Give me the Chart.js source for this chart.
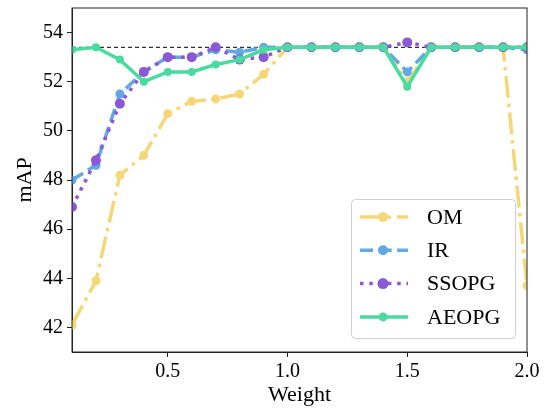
<!DOCTYPE html>
<html>
<head>
<title>mAP vs Weight</title>
<script src="https://cdn.jsdelivr.net/npm/chart.js"></script>
<style>
  html, body { margin: 0; padding: 0; background: #fff; }
</style>
</head>
<body>
<canvas id="mapChart" width="548" height="408"></canvas>
<script>
// data
const weights = [0.1, 0.2, 0.3, 0.4, 0.5, 0.6, 0.7, 0.8, 0.9, 1.0,
                 1.1, 1.2, 1.3, 1.4, 1.5, 1.6, 1.7, 1.8, 1.9, 2.0];
const omValues    = [42.1, 43.9, 48.2, 49.0, 50.7, 51.2, 51.3, 51.5, 52.3, 53.4,
                     53.4, 53.4, 53.4, 53.4, 52.0, 53.4, 53.4, 53.4, 53.4, 43.7];
const irValues    = [48.0, 48.6, 51.5, 52.4, 53.0, 53.0, 53.3, 53.2, 53.4, 53.4,
                     53.4, 53.4, 53.4, 53.4, 52.4, 53.4, 53.4, 53.4, 53.4, 53.3];
const ssopgValues = [46.9, 48.8, 51.1, 52.4, 53.0, 53.0, 53.4, 52.9, 53.0, 53.4,
                     53.4, 53.4, 53.4, 53.4, 53.6, 53.4, 53.4, 53.4, 53.4, 53.4];
const aeopgValues = [53.3, 53.4, 52.9, 52.0, 52.4, 52.4, 52.7, 52.9, 53.3, 53.4,
                     53.4, 53.4, 53.4, 53.4, 51.8, 53.4, 53.4, 53.4, 53.4, 53.4];
const baseline = 53.4;
const xTicks = [0.5, 1.0, 1.5, 2.0];
const yTicks = [42, 44, 46, 48, 50, 52, 54];

const FONT = "'Liberation Serif', 'Times New Roman', serif";

function series(label, values, color, dash, radius, order) {
    return {
        label: label,
        data: weights.map((w, i) => ({ x: w, y: values[i] })),
        borderColor: color,
        backgroundColor: color,
        borderWidth: 3.5,
        borderDash: dash,
        pointRadius: radius,
        pointBorderWidth: 0,
        pointBackgroundColor: color,
        tension: 0,
        clip: 0,
        order: order
    };
}

const datasets = [
    series('OM', omValues, '#F6D777', [22, 5.6, 3.5, 5.6], 4.5, 3),
    series('IR', irValues, '#62A8E5', [13, 5.6], 4.5, 2),
    series('SSOPG', ssopgValues, '#8B58D6', [3.5, 5.8], 5, 1),
    series('AEOPG', aeopgValues, '#4ADBA0', [], 4, 0),
    {
        label: 'best',
        data: [{ x: weights[0], y: baseline }, { x: weights[weights.length - 1], y: baseline }],
        borderColor: '#000',
        borderWidth: 1,
        borderDash: [4, 3],
        pointRadius: 0,
        clip: 0,
        order: 5
    }
];

// box round the plot area
const framePlugin = {
    id: 'frame',
    afterDraw(chart) {
        const { ctx, chartArea: a } = chart;
        ctx.save();
        ctx.strokeStyle = '#222';
        ctx.lineWidth = 1;
        ctx.strokeRect(a.left, a.top, a.right - a.left, a.bottom - a.top);
        ctx.restore();
    }
};

// legend box in the lower right corner, like matplotlib's
const legendPlugin = {
    id: 'boxLegend',
    afterDraw(chart) {
        const { ctx, chartArea: a } = chart;
        const x0 = a.right - 176, y0 = a.bottom - 153, w = 164, h = 139;
        ctx.save();
        ctx.fillStyle = 'rgba(255,255,255,0.8)';
        ctx.strokeStyle = '#d0d0d0';
        ctx.lineWidth = 1;
        ctx.beginPath();
        ctx.roundRect(x0 + 0.5, y0 + 0.5, w, h, 4);
        ctx.fill();
        ctx.stroke();

        ctx.font = '22px ' + FONT;
        ctx.textBaseline = 'middle';
        for (let i = 0; i < 4; i++) {
            const ds = chart.data.datasets[i];
            const y = y0 + 18 + i * 33.3;
            ctx.strokeStyle = ds.borderColor;
            ctx.lineWidth = ds.borderWidth;
            ctx.setLineDash(ds.borderDash);
            ctx.beginPath();
            ctx.moveTo(x0 + 9, y);
            ctx.lineTo(x0 + 57, y);
            ctx.stroke();
            ctx.setLineDash([]);
            ctx.fillStyle = ds.borderColor;
            ctx.beginPath();
            ctx.arc(x0 + 32, y, ds.pointRadius + 0.5, 0, Math.PI * 2);
            ctx.fill();
            ctx.fillStyle = '#000';
            ctx.fillText(ds.label, x0 + 76, y + 1);
        }
        ctx.restore();
    }
};

const ctx = document.getElementById('mapChart').getContext('2d');
const chart = new Chart(ctx, {
    type: 'line',
    data: { datasets: datasets },
    options: {
        responsive: false,
        animation: false,
        events: [],
        layout: { padding: { left: 0, right: 21, top: 8, bottom: 0 } },
        plugins: {
            legend: { display: false },
            tooltip: { enabled: false }
        },
        scales: {
            x: {
                type: 'linear',
                min: 0.1,
                max: 2.0,
                afterBuildTicks: s => { s.ticks = xTicks.map(v => ({ value: v })); },
                afterFit: s => { s.height = 56; },
                grid: { drawOnChartArea: false, drawTicks: true, tickLength: 5, color: '#222' },
                border: { color: '#222' },
                ticks: {
                    color: '#000',
                    font: { family: FONT, size: 20 },
                    padding: 3,
                    maxRotation: 0,
                    callback: v => v.toFixed(1)
                },
                title: {
                    display: true,
                    text: 'Weight',
                    color: '#000',
                    font: { family: FONT, size: 22 },
                    padding: { top: 0, bottom: 0 }
                }
            },
            y: {
                min: 41.0,
                max: 55.0,
                afterBuildTicks: s => { s.ticks = yTicks.map(v => ({ value: v })); },
                afterFit: s => {
                    s.width = 72;
                    s.paddingTop = 0;
                    s.paddingBottom = 0;
                },
                grid: { drawOnChartArea: false, drawTicks: true, tickLength: 5, color: '#222' },
                border: { color: '#222' },
                ticks: {
                    color: '#000',
                    font: { family: FONT, size: 20 },
                    padding: 4
                },
                title: {
                    display: true,
                    text: 'mAP',
                    color: '#000',
                    font: { family: FONT, size: 22 },
                    padding: { top: 12, bottom: 0 }
                }
            }
        }
    },
    plugins: [framePlugin, legendPlugin]
});
</script>
</body>
</html>
